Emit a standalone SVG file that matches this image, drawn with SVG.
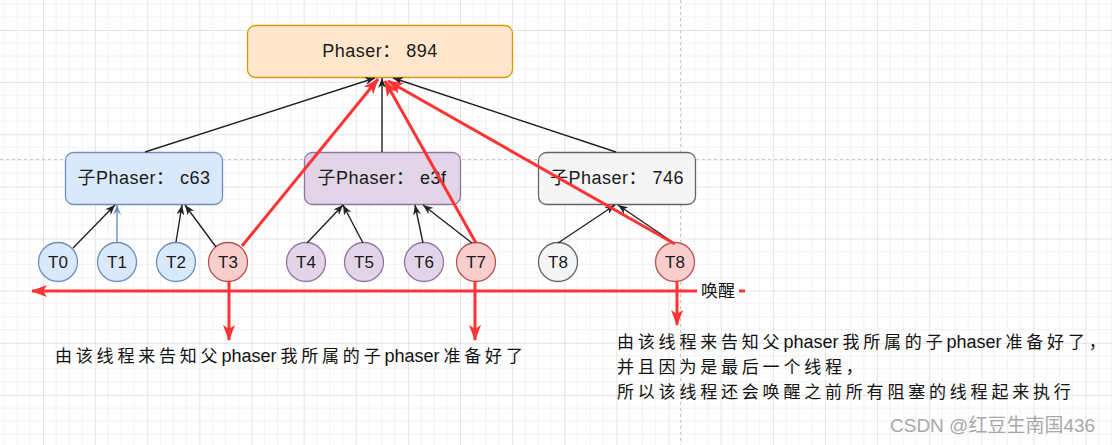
<svg xmlns="http://www.w3.org/2000/svg" width="1112" height="445" viewBox="0 0 1112 445">
<style>
.lbl{font-family:"Liberation Sans","Noto Sans CJK SC",sans-serif;font-size:18px;fill:#1a1a1a;letter-spacing:0.5px}
.tl{font-family:"Liberation Sans",Arial,sans-serif;font-size:17px;fill:#1a1a1a}
.note{font-family:"Noto Sans CJK SC","Liberation Sans",sans-serif;font-size:17px;fill:#111}
.cjk{letter-spacing:3.8px}
.lat{font-family:"Liberation Sans","Noto Sans CJK SC",sans-serif;font-size:18px;letter-spacing:0}
.blk{stroke:#222;stroke-width:1.4;fill:none}
.red{stroke:#ff3333;stroke-width:3;fill:none}
</style>
<defs>
<pattern id="grid" x="43" y="30" width="52.13" height="52.13" patternUnits="userSpaceOnUse">
<path d="M13.03 0V52.13M26.07 0V52.13M39.1 0V52.13M0 13.03H52.13M0 26.07H52.13M0 39.1H52.13" stroke="#f2f2f2" stroke-width="1"/>
<path d="M0.5 0V52.13M0 0.5H52.13" stroke="#e4e4e4" stroke-width="1"/>
</pattern>
<marker id="ab" viewBox="0 0 10 8" refX="10" refY="4" markerWidth="10" markerHeight="8" markerUnits="userSpaceOnUse" orient="auto">
<path d="M0,0 L10,4 L0,8 L3,4 z" fill="#222"/>
</marker>
<marker id="abl" viewBox="0 0 10 8" refX="10" refY="4" markerWidth="10" markerHeight="8" markerUnits="userSpaceOnUse" orient="auto">
<path d="M0,0 L10,4 L0,8 L4,4 z" fill="#6c8ebf"/>
</marker>
<marker id="ar" viewBox="0 0 16 12" refX="15" refY="6" markerWidth="16" markerHeight="12" markerUnits="userSpaceOnUse" orient="auto">
<path d="M0,0 L16,6 L0,12 L4,6 z" fill="#ff3333"/>
</marker>
</defs>
<rect width="1112" height="445" fill="#ffffff"/>
<rect width="1112" height="445" fill="url(#grid)"/>
<path d="M0 159.5H1112" stroke="#c8c8c8" stroke-width="1" stroke-dasharray="3,3"/>
<path d="M680.5 0V445" stroke="#c8c8c8" stroke-width="1" stroke-dasharray="3,3"/>

<g id="phaser-894">
<rect x="247.5" y="25.5" width="265" height="52" rx="8" fill="#ffe6cc" stroke="#d79b00" stroke-width="1.3"/>
<text class="lbl" x="380" y="57" text-anchor="middle">Phaser： 894</text>
</g>
<g id="phaser-c63">
<rect x="65.5" y="152.5" width="157" height="52" rx="8" fill="#dae8fc" stroke="#6c8ebf" stroke-width="1.3"/>
<text class="lbl" x="144" y="184" text-anchor="middle">子Phaser： c63</text>
</g>
<g id="phaser-e3f">
<rect x="304.5" y="152.5" width="156" height="52" rx="8" fill="#e1d5e7" stroke="#9673a6" stroke-width="1.3"/>
<text class="lbl" x="382" y="184" text-anchor="middle">子Phaser： e3f</text>
</g>
<g id="phaser-746">
<rect x="538.5" y="152.5" width="157" height="52" rx="8" fill="#f5f5f5" stroke="#666666" stroke-width="1.3"/>
<text class="lbl" x="617" y="184" text-anchor="middle">子Phaser： 746</text>
</g>

<g id="T0"><circle cx="58" cy="262" r="19.5" fill="#dae8fc" stroke="#6c8ebf" stroke-width="1.3"/><text class="tl" x="58" y="268" text-anchor="middle">T0</text></g>
<g id="T1"><circle cx="117" cy="262" r="19.5" fill="#dae8fc" stroke="#6c8ebf" stroke-width="1.3"/><text class="tl" x="117" y="268" text-anchor="middle">T1</text></g>
<g id="T2"><circle cx="176" cy="262" r="19.5" fill="#dae8fc" stroke="#6c8ebf" stroke-width="1.3"/><text class="tl" x="176" y="268" text-anchor="middle">T2</text></g>
<g id="T3"><circle cx="228" cy="262" r="19.5" fill="#f8cecc" stroke="#b85450" stroke-width="1.3"/><text class="tl" x="228" y="268" text-anchor="middle">T3</text></g>
<g id="T4"><circle cx="306" cy="262" r="19.5" fill="#e1d5e7" stroke="#9673a6" stroke-width="1.3"/><text class="tl" x="306" y="268" text-anchor="middle">T4</text></g>
<g id="T5"><circle cx="364" cy="262" r="19.5" fill="#e1d5e7" stroke="#9673a6" stroke-width="1.3"/><text class="tl" x="364" y="268" text-anchor="middle">T5</text></g>
<g id="T6"><circle cx="424" cy="262" r="19.5" fill="#e1d5e7" stroke="#9673a6" stroke-width="1.3"/><text class="tl" x="424" y="268" text-anchor="middle">T6</text></g>
<g id="T7"><circle cx="476" cy="262" r="19.5" fill="#f8cecc" stroke="#b85450" stroke-width="1.3"/><text class="tl" x="476" y="268" text-anchor="middle">T7</text></g>
<g id="T8a"><circle cx="558" cy="262" r="19.5" fill="#f5f5f5" stroke="#666666" stroke-width="1.3"/><text class="tl" x="558" y="268" text-anchor="middle">T8</text></g>
<g id="T8b"><circle cx="675" cy="262" r="19.5" fill="#f8cecc" stroke="#b85450" stroke-width="1.3"/><text class="tl" x="675" y="268" text-anchor="middle">T8</text></g>

<g id="connectors">
<path class="blk" d="M145 152 L375 78" marker-end="url(#ab)"/>
<path class="blk" d="M616 152 L393 78" marker-end="url(#ab)"/>
<path class="blk" d="M382 152 L382 78" marker-end="url(#ab)"/>
<path class="blk" d="M73 248 L115 205" marker-end="url(#ab)"/>
<path d="M117 242 L117 205" stroke="#6c8ebf" stroke-width="1.4" fill="none" marker-end="url(#abl)"/>
<path class="blk" d="M176 242 L182 205" marker-end="url(#ab)"/>
<path class="blk" d="M216 247 L185 205" marker-end="url(#ab)"/>
<path class="blk" d="M307 243 L343 205" marker-end="url(#ab)"/>
<path class="blk" d="M363 243 L343 205" marker-end="url(#ab)"/>
<path class="blk" d="M423 243 L415 205" marker-end="url(#ab)"/>
<path class="blk" d="M472 243 L423 205" marker-end="url(#ab)"/>
<path class="blk" d="M558 243 L615 205" marker-end="url(#ab)"/>
<path class="blk" d="M674 243 L618 205" marker-end="url(#ab)"/>
<path class="red" d="M242 246 L378 79" marker-end="url(#ar)"/>
<path class="red" d="M476 243 L385 81" marker-end="url(#ar)"/>
<path class="red" d="M675 244 L388 81" marker-end="url(#ar)"/>
<path class="red" d="M745 291 L32 291" marker-end="url(#ar)"/>
<path class="red" d="M229 281 L229 340" marker-end="url(#ar)"/>
<path class="red" d="M475 281 L475 340" marker-end="url(#ar)"/>
<path class="red" d="M677 281 L677 325" marker-end="url(#ar)"/>
<rect x="697" y="281" width="42" height="19" fill="#ffffff"/>
<text class="note" x="718" y="297" text-anchor="middle">唤醒</text>
</g>

<g id="note-left">
<text class="note" x="55" y="362"><tspan class="cjk">由该线程来告知父</tspan><tspan class="lat">phaser</tspan><tspan class="cjk" dx="4">我所属的子</tspan><tspan class="lat">phaser</tspan><tspan class="cjk" dx="4">准备好了</tspan></text>
</g>
<g id="note-right">
<text class="note" x="617" y="348"><tspan class="cjk">由该线程来告知父</tspan><tspan class="lat">phaser</tspan><tspan class="cjk" dx="4">我所属的子</tspan><tspan class="lat">phaser</tspan><tspan class="cjk" dx="4">准备好了，</tspan></text>
<text class="note cjk" x="617" y="373">并且因为是最后一个线程，</text>
<text class="note cjk" x="617" y="398">所以该线程还会唤醒之前所有阻塞的线程起来执行</text>
</g>
<g id="watermark">
<text x="890" y="432" style="font-family:'Liberation Sans','Noto Sans CJK SC',sans-serif;font-size:19px;fill:#a8a8a8">CSDN @红豆生南国436</text>
</g>
</svg>
